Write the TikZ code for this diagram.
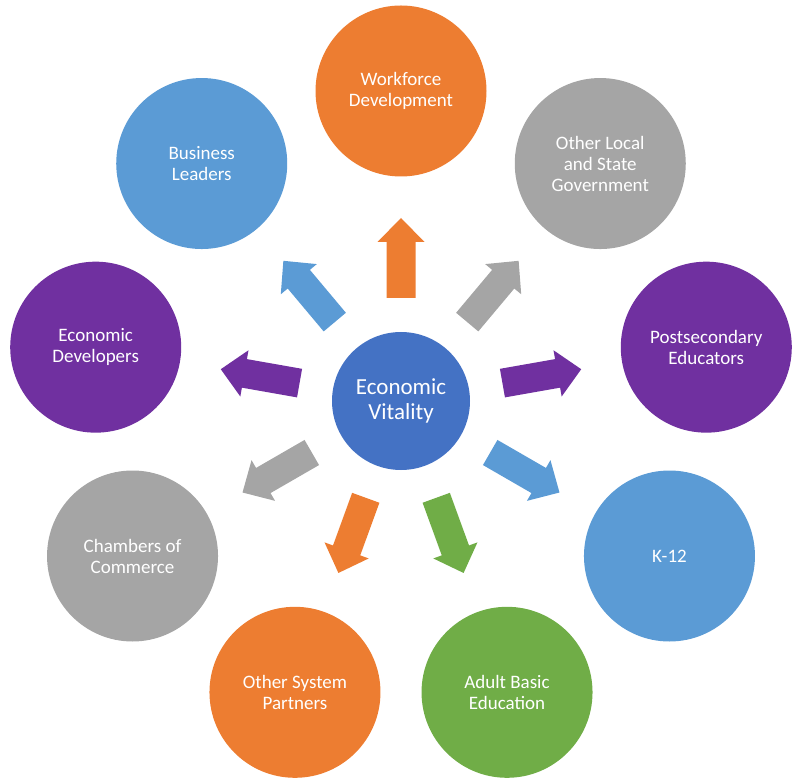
\documentclass[tikz,border=0pt]{standalone}
\usepackage{fontspec}
\setmainfont{Carlito}
\definecolor{cOrange}{HTML}{ED7D31}
\definecolor{cGray}{HTML}{A5A5A5}
\definecolor{cPurple}{HTML}{7030A0}
\definecolor{cBlue}{HTML}{5B9BD5}
\definecolor{cGreen}{HTML}{70AD47}
\definecolor{cCenter}{HTML}{4472C4}
\newcommand\blockarr[2]{\fill[#2,rotate=#1] (103,-14.5) -- (159,-14.5) -- (159,-23.5) -- (183,0) -- (159,23.5) -- (159,14.5) -- (103,14.5) -- cycle;}
\tikzset{
  outer/.style={circle, minimum size=171pt, inner sep=0pt, text=white, align=center,
    font=\fontsize{19}{21}\selectfont},
  hub/.style={circle, minimum size=138pt, inner sep=0pt, text=white, align=center,
    fill=cCenter, font=\fontsize{23}{25}\selectfont}
}
\begin{document}
\begin{tikzpicture}[x=1pt,y=1pt]
\useasboundingbox (-401,-377) rectangle (393,401);
\node[hub] (ev) at (0,0) {Economic\\Vitality};
\node[outer, fill=cOrange] (wf) at (90:310) {Workforce\\Development};
\node[outer, fill=cGray] (ol) at (50:310) {Other Local\\and State\\Government};
\node[outer, fill=cPurple] (pe) at (10:310) {Postsecondary\\Educators};
\node[outer, fill=cBlue] (k12) at (-30:310) {K-12};
\node[outer, fill=cGreen] (abe) at (-70:310) {Adult Basic\\Education};
\node[outer, fill=cOrange] (osp) at (-110:310) {Other System\\Partners};
\node[outer, fill=cGray] (cc) at (-150:310) {Chambers of\\Commerce};
\node[outer, fill=cPurple] (ed) at (170:310) {Economic\\Developers};
\node[outer, fill=cBlue] (bl) at (130:310) {Business\\Leaders};
\blockarr{90}{cOrange}
\blockarr{50}{cGray}
\blockarr{10}{cPurple}
\blockarr{-30}{cBlue}
\blockarr{-70}{cGreen}
\blockarr{-110}{cOrange}
\blockarr{-150}{cGray}
\blockarr{170}{cPurple}
\blockarr{130}{cBlue}
\end{tikzpicture}
\end{document}
